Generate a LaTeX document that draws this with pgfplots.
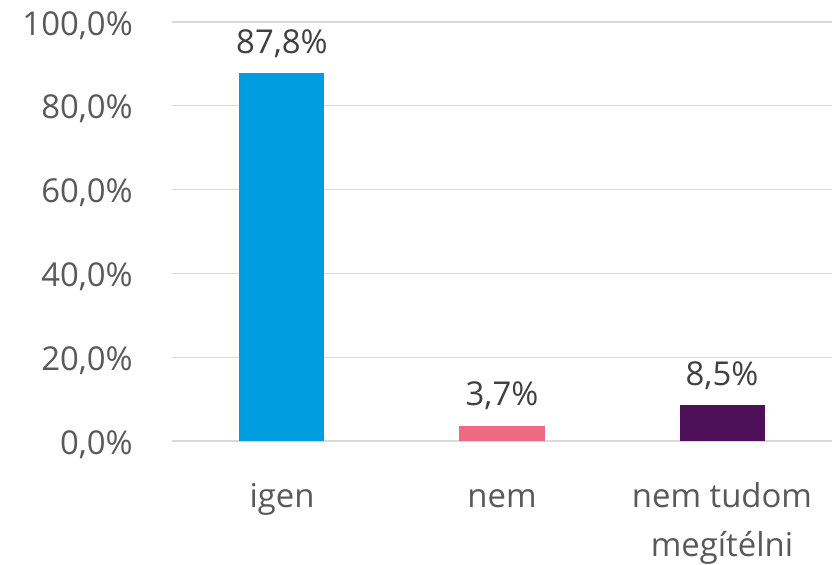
\documentclass[border=0pt]{standalone}
\usepackage{pgfplots}
\pgfplotsset{compat=1.18}
\usepackage{fontspec}
\setmainfont{Open Sans}
\definecolor{cblue}{HTML}{009EE0}
\definecolor{cpink}{HTML}{EE6A80}
\definecolor{cpurp}{HTML}{4E1059}
\definecolor{tickgray}{HTML}{595959}
\definecolor{labgray}{HTML}{404040}
\definecolor{gridgray}{HTML}{D9D9D9}
\begin{document}
\fontsize{33}{49}\selectfont
\begin{tikzpicture}
\begin{axis}[
  at={(0,0)}, anchor=south west,
  scale only axis, width=660bp, height=419bp,
  xmin=-0.5, xmax=2.5, ymin=0, ymax=100,
  axis line style={draw=none},
  major tick length=0pt,
  ytick={0,20,40,60,80,100},
  yticklabels={{0,0\%},{20,0\%},{40,0\%},{60,0\%},{80,0\%},{100,0\%}},
  ymajorgrids, grid style={gridgray, line width=1.2bp},
  xtick={0,1,2},
  xticklabels={{\strut igen},{\strut nem},{\strut nem tudom\\megítélni}},
  yticklabel style={font=\fontsize{33}{49}\selectfont, text=tickgray, anchor=base east, inner sep=0pt, xshift=-39bp, yshift=-13bp},
  xticklabel style={font=\fontsize{33}{49}\selectfont, text=tickgray, anchor=north, align=center, inner sep=0pt, yshift=-32.5bp},
  bar width=85bp,
  /pgf/number format/assume math mode=true,
  nodes near coords={\pgfmathprintnumber[fixed, fixed zerofill, precision=1, use comma, assume math mode=true]{\pgfplotspointmeta}\%},
  every node near coord/.append style={font=\fontsize{33}{49}\selectfont, text=labgray, anchor=base, inner sep=0pt, yshift=20bp},
]
\addplot[ybar, fill=cblue, draw=none] coordinates {(0,87.8)};
\addplot[ybar, fill=cpink, draw=none] coordinates {(1,3.7)};
\addplot[ybar, fill=cpurp, draw=none] coordinates {(2,8.5)};
\end{axis}
\useasboundingbox (-172bp,-120bp) rectangle (662bp,441bp);
\end{tikzpicture}
\end{document}
